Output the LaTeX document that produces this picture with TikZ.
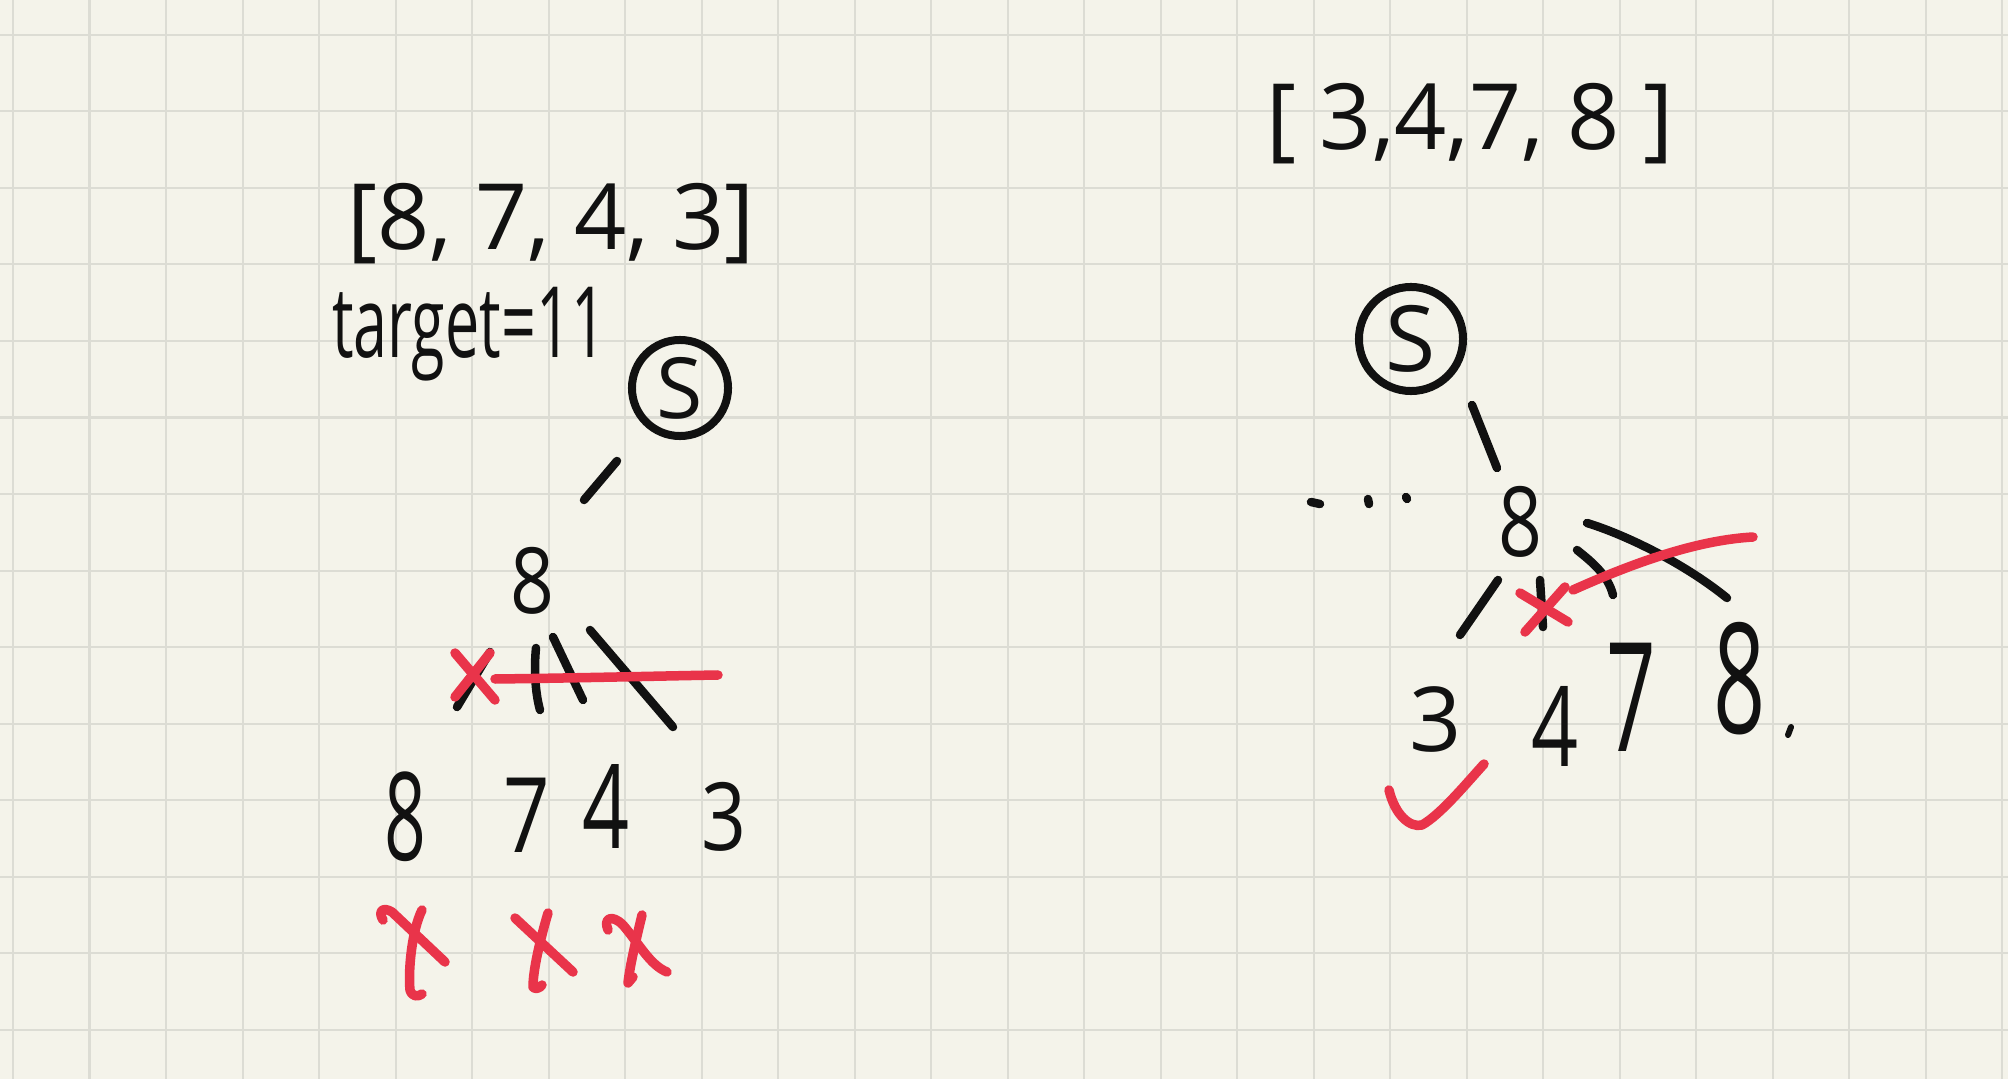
\documentclass[tikz,border=0pt]{standalone}
\usepackage{fontspec}
\setmainfont{Open Sans}
\definecolor{paper}{HTML}{F4F3EA}
\definecolor{gridc}{HTML}{DCDCD4}
\definecolor{ink}{HTML}{111111}
\definecolor{redink}{HTML}{E9344A}
\newcommand\hwdigit[3]{\scalebox{#1}[#2]{#3}}
\begin{document}
\begin{tikzpicture}[x=0.01cm,y=-0.01cm,
  pen/.style={draw=ink,line width=0.085cm,line cap=round,line join=round},
  redpen/.style={draw=redink,line width=0.095cm,line cap=round,line join=round},
  txt/.style={text=ink,inner sep=0pt,anchor=base,font=\fontsize{26}{26}\selectfont},
  circ/.style={circle,draw=ink,line width=0.08cm,inner sep=0pt,text=ink},
  gridline/.style={draw=gridc,line width=0.02cm}]
\fill[paper] (0,0) rectangle (2008,1079);
\useasboundingbox (0,0) rectangle (2008,1079);
\foreach \k in {0,...,26} \draw[gridline] ({13+76.5*\k},0) -- ({13+76.5*\k},1079);
\foreach \k in {0,...,13} \draw[gridline] (0,{35+76.5*\k}) -- (2008,{35+76.5*\k});

% ---------- left part ----------
\node[txt] (listL) at (551,250) {[8, 7, 4, 3]};
\node[txt,font=\fontsize{28}{28}\selectfont] (target) at (469,357) {\scalebox{0.62}[1]{target=11}};
\node[circ,minimum size=0.96cm,font=\fontsize{24}{24}\selectfont] (SL) at (680,388) {S};
\node[txt] (eightL) at (532,613) {\hwdigit{0.84}{1.0}{8}};
\node[txt] (bL8) at (405,860) {\hwdigit{0.8}{1.34}{8}};
\node[txt] (bL7) at (527,852) {\hwdigit{0.89}{1.14}{7}};
\node[txt] (bL4) at (606,848) {\hwdigit{0.9}{1.28}{4}};
\node[txt] (bL3) at (724,850) {\hwdigit{0.86}{1.03}{3}};

\coordinate (eLa) at (617,461); \coordinate (eLb) at (584,500);
\draw[pen] (eLa) -- (eLb);
\coordinate (l1a) at (490,652); \coordinate (l1b) at (457,707);
\coordinate (l2a) at (536,648); \coordinate (l2b) at (540,710);
\coordinate (l3a) at (553,637); \coordinate (l3b) at (583,700);
\coordinate (l4a) at (590,630); \coordinate (l4b) at (673,727);
\draw[pen] (l1a) -- (l1b);
\draw[pen] (l2a) .. controls (534,668) and (535,692) .. (l2b);
\draw[pen] (l3a) -- (l3b);
\draw[pen] (l4a) -- (l4b);
% red crossing out
\draw[redpen] (455,653) -- (495,700);
\draw[redpen] (490,653) -- (455,697);
\draw[redpen] (495,679) .. controls (580,678) and (660,676) .. (718,675);
% red X marks under bottom row
\draw[redpen] (383,920) .. controls (378,912) and (382,906) .. (392,912) -- (445,962);
\draw[redpen] (422,910) .. controls (412,930) and (408,970) .. (410,990) .. controls (412,997) and (418,997) .. (422,994);
\draw[redpen] (515,918) -- (573,972);
\draw[redpen] (548,913) .. controls (540,940) and (533,970) .. (533,987) .. controls (535,990) and (540,988) .. (542,985);
\draw[redpen] (608,930) .. controls (603,918) and (612,914) .. (623,925) .. controls (640,945) and (650,965) .. (667,972);
\draw[redpen] (642,915) .. controls (636,940) and (630,965) .. (628,983) -- (633,977);

% ---------- right part ----------
\node[txt] (listR) at (1470,150) {[ 3,4,7, 8 ]};
\node[circ,minimum size=1.04cm,font=\fontsize{26}{26}\selectfont] (SR) at (1411,339) {S};
\node[txt] (eightR) at (1520,556) {\hwdigit{0.84}{1.06}{8}};
\node[txt] (bR3) at (1436,751) {\hwdigit{1.0}{0.98}{3}};
\node[txt] (bR4) at (1555,766) {\hwdigit{0.9}{1.22}{4}};
\node[txt] (bR7) at (1631,751) {\hwdigit{0.95}{1.66}{7}};
\node[txt] (bR8) at (1740,733) {\hwdigit{1.0}{1.68}{8}};

\coordinate (eRa) at (1472,405); \coordinate (eRb) at (1497,468);
\draw[pen] (eRa) -- (eRb);
\coordinate (r1a) at (1498,580); \coordinate (r1b) at (1460,635);
\coordinate (r2a) at (1540,580); \coordinate (r2b) at (1543,627);
\coordinate (r3a) at (1577,550); \coordinate (r3b) at (1613,595);
\coordinate (r4a) at (1587,523); \coordinate (r4b) at (1727,598);
\draw[pen] (r1a) -- (r1b);
\draw[pen] (r2a) -- (r2b);
\draw[pen] (r3a) .. controls (1592,562) and (1608,575) .. (r3b);
\draw[pen] (r4a) .. controls (1620,533) and (1680,560) .. (r4b);
% dots
\draw[pen] (1311,502) -- (1320,504);
\draw[pen] (1368,499) -- (1369,504);
\draw[pen] (1406,497) -- (1407,499);
\draw[pen,line width=0.06cm] (1791,727) -- (1788,735);
% red marks
\draw[redpen] (1520,593) -- (1568,622);
\draw[redpen] (1565,587) -- (1525,632);
\draw[redpen] (1573,590) .. controls (1640,560) and (1700,540) .. (1753,537);
\draw[redpen] (1389,790) .. controls (1395,815) and (1410,828) .. (1422,825) .. controls (1440,815) and (1465,785) .. (1484,764);
\end{tikzpicture}
\end{document}
